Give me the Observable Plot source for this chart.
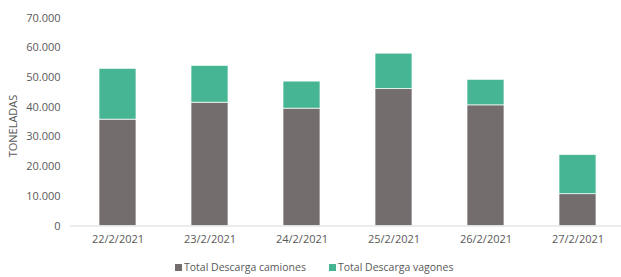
<!DOCTYPE html>
<html>
<head>
<meta charset="utf-8">
<script src="https://cdn.jsdelivr.net/npm/d3@7"></script>
<script src="https://cdn.jsdelivr.net/npm/@observablehq/plot@0.6"></script>
<style>
  html, body { margin: 0; padding: 0; background: #fff; overflow: hidden; }
  #chart { position: relative; width: 621px; height: 277px; font-family: "Open Sans", Lato, sans-serif; }
  .legend { position: absolute; top: 260px; left: 0; width: 621px; height: 16px; font-size: 10.5px; color: #595959; }
  .legend div { position: absolute; top: 0; white-space: nowrap; }
  .legend span.sw { display: inline-block; width: 7px; height: 7px; margin-right: 2px; vertical-align: 0px; }
</style>
</head>
<body>
<div id="chart"></div>
<script>
const dates = ["22/2/2021", "23/2/2021", "24/2/2021", "25/2/2021", "26/2/2021", "27/2/2021"];
const camiones = [35800, 41500, 39500, 46100, 40600, 10700];
const vagones = [17100, 12400, 9100, 11900, 8600, 13200];
const seriesNames = ["Total Descarga camiones", "Total Descarga vagones"];
const seriesColors = ["#736E6D", "#46B593"];
const yTicks = [0, 10000, 20000, 30000, 40000, 50000, 60000, 70000];

const data = [];
dates.forEach((d, i) => {
  data.push({date: d, serie: seriesNames[0], value: camiones[i]});
  data.push({date: d, serie: seriesNames[1], value: vagones[i]});
});

const fmt = v => v === 0 ? "0" : d3.format(",")(v).replace(/,/g, ".");

const plot = Plot.plot({
  width: 621,
  height: 252,
  marginLeft: 70,
  marginRight: 0,
  marginTop: 17.5,
  marginBottom: 26.5,
  style: {fontFamily: "'Open Sans', Lato, sans-serif", fontSize: "11px", color: "#595959", background: "#fff"},
  x: {domain: dates, range: [70.3, 625], paddingInner: 0.6, paddingOuter: 0.3, label: null, tickSize: 0, tickPadding: 9},
  y: {domain: [0, 70000], ticks: yTicks, tickFormat: fmt, label: null, tickSize: 0, tickPadding: 10},
  color: {domain: seriesNames, range: seriesColors},
  marks: [
    Plot.barY(data, Plot.stackY({order: seriesNames, x: "date", y: "value", fill: "serie", stroke: "#fff", strokeWidth: 0.7})),
    Plot.ruleY([0], {stroke: "#d9d9d9", strokeWidth: 1}),
    Plot.text(["TONELADAS"], {frameAnchor: "left", textAnchor: "middle", rotate: -90, dx: -57, dy: 4, fill: "#595959", fontSize: 11})
  ]
});
document.getElementById("chart").appendChild(plot);

const leg = document.createElement("div");
leg.className = "legend";
const legLeft = [175, 329];
leg.innerHTML = seriesNames.map((n, i) => `<div style="left:${legLeft[i]}px"><span class="sw" style="background:${seriesColors[i]}"></span>${n}</div>`).join("");
document.getElementById("chart").appendChild(leg);
</script>
</body>
</html>
